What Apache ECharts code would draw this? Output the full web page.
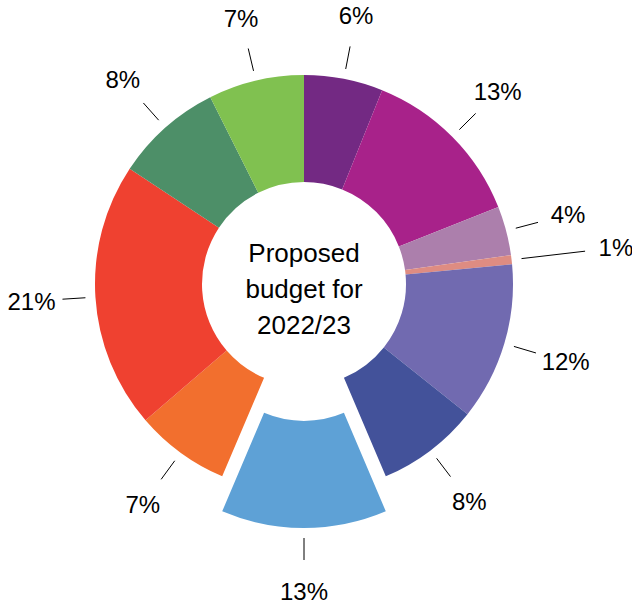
<!DOCTYPE html>
<html><head><meta charset="utf-8">
<script src="https://cdn.jsdelivr.net/npm/echarts@6/dist/echarts.min.js"></script>
<style>html,body{margin:0;padding:0;background:#fff}#c{width:632px;height:606px}</style>
</head><body><div id="c"></div>
<script>
// ---- data (shares; labels show rounded %) ----
const segments = ['Segment 1','Segment 2','Segment 3','Segment 4','Segment 5','Segment 6','Segment 7','Segment 8','Segment 9','Segment 10','Segment 11'];
const shares = [6.1, 12.9, 3.8, 0.7, 12.2, 7.9, 12.8, 7.3, 20.6, 8.3, 7.4];
const colors = ['#732983','#a8228a','#ac7fac','#de8c82','#716ab0','#43529a','#5ea1d6','#f26f2e','#ef4130','#4d8f68','#80c150'];
const centerTitle = ['Proposed', 'budget for', '2022/23'];
const explodedIndex = 6;
const longLineIndex = 3;

// ---- layout constants ----
const CX = 304, CY = 284, R0 = 102, R = 209, OFFSET = 35;
const LINE_GAP = 10, TEXT_GAP = 31;
const FONT = 'Liberation Sans, Arial, Helvetica, sans-serif';

// centre of the exploded slice's series, moved along its mid angle
const total = shares.reduce((a, b) => a + b, 0);
const before = shares.slice(0, explodedIndex).reduce((a, b) => a + b, 0);
const midAngle = (before + shares[explodedIndex] / 2) / total * 2 * Math.PI;
const CX2 = CX + OFFSET * Math.sin(midAngle);
const CY2 = CY - OFFSET * Math.cos(midAngle);

function lineLen(i) { return i === longLineIndex ? 74 : (i === explodedIndex ? 32 : 33); }

function makeData(visible) {
  return shares.map((v, i) => {
    const on = visible(i);
    return {
      name: segments[i],
      value: v,
      itemStyle: { color: colors[i], opacity: on ? 1 : 0 },
      label: { show: on },
      labelLine: { show: on, length: lineLen(i) }
    };
  });
}

function labelLayout(p) {
  const pts = p.labelLinePoints;
  if (!pts || pts.length < 2) return {};
  const a = pts[0], b = pts[1];
  let dx = b[0] - a[0], dy = b[1] - a[1];
  const L = Math.hypot(dx, dy) || 1; dx /= L; dy /= L;
  const s = [a[0] + dx * LINE_GAP, a[1] + dy * LINE_GAP];
  return {
    x: b[0] + dx * TEXT_GAP, y: b[1] + dy * TEXT_GAP,
    align: 'center', verticalAlign: 'middle',
    labelLinePoints: [s, b]
  };
}

function pieSeries(center, visible) {
  return {
    type: 'pie',
    center: center,
    radius: [R0, R],
    startAngle: 90,
    clockwise: true,
    avoidLabelOverlap: false,
    silent: true,
    emphasis: { disabled: true },
    itemStyle: { borderWidth: 0 },
    label: {
      position: 'outside',
      formatter: p => Math.round(p.value) + '%',
      fontFamily: FONT, fontSize: 24, color: '#000'
    },
    labelLine: { length2: 0, lineStyle: { color: '#000', width: 1 } },
    labelLayout: labelLayout,
    data: makeData(visible)
  };
}

const chart = echarts.init(document.getElementById('c'), null, { renderer: 'svg' });
chart.setOption({
  animation: false,
  backgroundColor: '#fff',
  graphic: [{
    type: 'text', x: CX, y: 289,
    style: {
      text: centerTitle.join('\n'), align: 'center', verticalAlign: 'middle',
      fontFamily: FONT, fontSize: 26, lineHeight: 36, fill: '#000'
    }
  }],
  series: [
    pieSeries([CX, CY], i => i !== explodedIndex),
    pieSeries([CX2, CY2], i => i === explodedIndex)
  ]
});
</script></body></html>
